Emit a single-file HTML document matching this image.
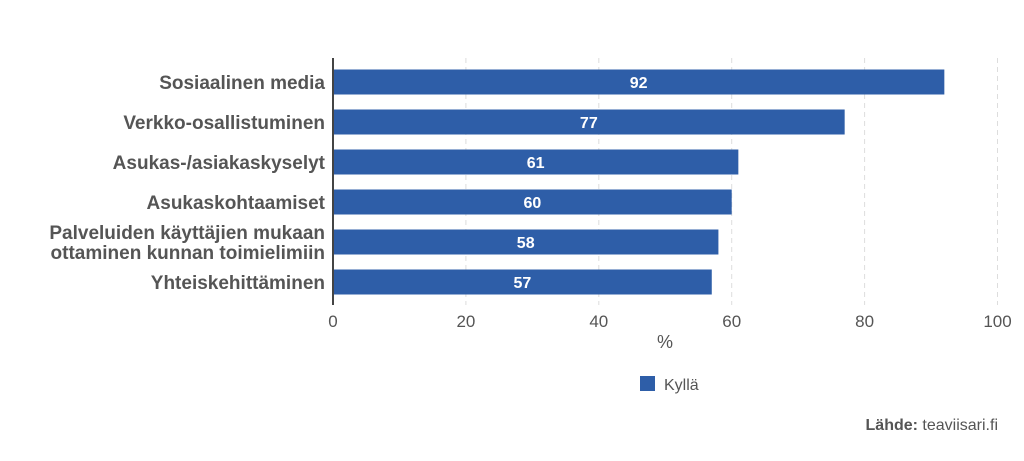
<!DOCTYPE html>
<html><head><meta charset="utf-8"><style>
body{margin:0;background:#fff;width:1024px;height:456px;overflow:hidden;font-family:"Liberation Sans",sans-serif}
</style></head><body>
<svg id="chart" width="1024" height="456" xmlns="http://www.w3.org/2000/svg" font-family="Liberation Sans, sans-serif"></svg>
<script>
const categories=[["Sosiaalinen media"],["Verkko-osallistuminen"],["Asukas-/asiakaskyselyt"],["Asukaskohtaamiset"],["Palveluiden käyttäjien mukaan","ottaminen kunnan toimielimiin"],["Yhteiskehittäminen"]];
const values=[92,77,61,60,58,57];
const ticks=[0,20,40,60,80,100];
const svg=document.getElementById('chart');
const NS='http://www.w3.org/2000/svg';
const x0=333,x1=997.5,top0=62,step=40,bh=25;
const xs=v=>x0+(x1-x0)*v/100;
const yc=i=>top0+step*i+20;
function mk(t,a,p){const e=document.createElementNS(NS,t);for(const k in a)e.setAttribute(k,a[k]);(p||svg).appendChild(e);return e;}
ticks.forEach(t=>{
 if(t>0){const g=mk('line',{x1:xs(t),x2:xs(t),y1:58,y2:305,stroke:'#ddd','stroke-dasharray':'5,4'});
 
 }
 const l=mk('text',{x:xs(t),y:327,'text-anchor':'middle','font-size':'17',fill:'#555'});l.textContent=t;
 
 
});
values.forEach((v,i)=>{
 const r=mk('rect',{x:x0,y:yc(i)-bh/2,width:xs(v)-x0,height:bh,fill:'#2e5ea8'});
 
 
 const t=mk('text',{x:(x0+xs(v))/2,y:yc(i)+6,'text-anchor':'middle','font-size':'16','font-weight':'bold',fill:'#fff'});t.textContent=v;
 
 
 const lines=categories[i];
 lines.forEach((s,j)=>{
  const c=mk('text',{x:325,y:yc(i)+7+(j-(lines.length-1)/2)*20,'text-anchor':'end','font-size':'19','font-weight':'bold',fill:'#555'});c.textContent=s;
  
  
 });
});
const ax=mk('line',{x1:x0,x2:x0,y1:58,y2:305,stroke:'#444','stroke-width':2});


const xt=mk('text',{x:665,y:348,'text-anchor':'middle','font-size':'18',fill:'#555'});xt.textContent='%';


const lg=mk('g',{});


mk('rect',{x:640,y:376,width:15,height:15,fill:'#2e5ea8'},lg);
const lt=mk('text',{x:664,y:390,'font-size':'16',fill:'#555'},lg);lt.textContent='Kyllä';
const src=mk('text',{x:998,y:430,'text-anchor':'end','font-size':'16',fill:'#555'});


const b=mk('tspan',{'font-weight':'bold'},src);b.textContent='Lähde: ';
const n=mk('tspan',{},src);n.textContent='teaviisari.fi';
</script>
</body></html>
